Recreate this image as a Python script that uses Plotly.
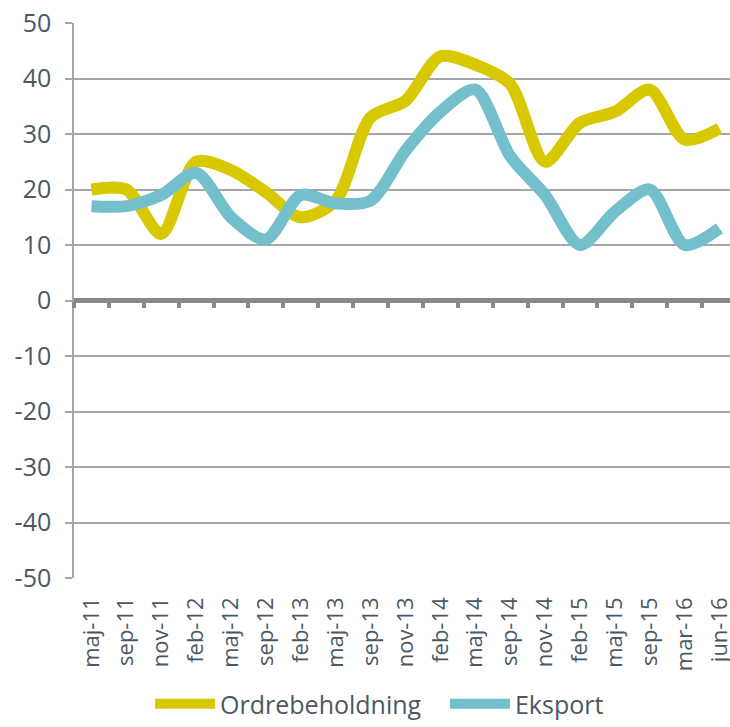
import plotly.graph_objects as go

labels = ['maj-11', 'sep-11', 'nov-11', 'feb-12', 'maj-12', 'sep-12', 'feb-13', 'maj-13',
          'sep-13', 'nov-13', 'feb-14', 'maj-14', 'sep-14', 'nov-14', 'feb-15', 'maj-15',
          'sep-15', 'mar-16', 'jun-16']

ordrebeholdning = [20, 20, 12, 25, 23.5, 19.5, 15, 18, 33, 36, 44, 42.5, 39, 25, 32, 34, 38, 29, 31]
eksport = [17, 17, 19, 23, 15, 11, 19, 17.5, 18, 27, 34, 38, 26, 19, 10, 16, 20, 10, 13]

y_ticks = [50, 40, 30, 20, 10, 0, -10, -20, -30, -40, -50]
y_ticktext = ['50', '40', '30', '20', '10', '0', '-10', '-20', '-30', '-40', '-50']

boundaries = [i - 0.5 for i in range(len(labels))]

text_color = '#4b5863'
grid_color = '#a6a6a6'

fig = go.Figure()
fig.add_trace(go.Scatter(x=labels, y=ordrebeholdning, name='Ordrebeholdning', mode='lines',
                         line=dict(color='#d8c800', width=12, shape='spline', smoothing=0.8)))
fig.add_trace(go.Scatter(x=labels, y=eksport, name='Eksport', mode='lines', legend='legend2',
                         line=dict(color='#74bfcc', width=12, shape='spline', smoothing=0.8)))

# invisible trace so the second x axis draws the tick marks on the zero line
fig.add_trace(go.Scatter(x=[boundaries[0]], y=[0], xaxis='x2', mode='none',
                         showlegend=False, hoverinfo='skip'))

legend_style = dict(orientation='h', xanchor='left', y=-0.226, yanchor='middle',
                    font=dict(size=25), itemwidth=60, bgcolor='rgba(0,0,0,0)')

fig.update_layout(
    width=730, height=727,
    margin=dict(l=74, r=0, t=23, b=148),
    plot_bgcolor='white', paper_bgcolor='white',
    font=dict(family='Open Sans', color=text_color, size=22),
    xaxis=dict(type='category', range=[-0.5, 18.3], showgrid=False, ticks='',
               tickangle=-90, ticklabelstandoff=14, tickfont=dict(size=22),
               showline=False, zeroline=False, automargin=False),
    xaxis2=dict(type='linear', range=[-0.5, 18.3], overlaying='x', anchor='free', position=0.5,
                tickvals=boundaries, ticks='outside', ticklen=6, tickwidth=4, tickcolor='#898989',
                showticklabels=False, showgrid=False, showline=False, zeroline=False,
                automargin=False),
    yaxis=dict(range=[-50, 50], tickvals=y_ticks, ticktext=y_ticktext,
               showgrid=True, gridcolor=grid_color, gridwidth=1.5,
               zeroline=True, zerolinecolor='#898989', zerolinewidth=5,
               showline=True, linecolor=grid_color, linewidth=1.5,
               ticks='outside', ticklen=7, tickcolor=grid_color, tickwidth=1.5,
               ticklabelstandoff=9, tickfont=dict(size=25), automargin=False),
    legend=dict(x=0.116, **legend_style),
    legend2=dict(x=0.5655, **legend_style),
    showlegend=True,
)

# page body has a default 8px margin that shifts the figure; remove it
fig.write_html("out.html", config={'displayModeBar': False},
               post_script="document.body.style.margin='0';")
